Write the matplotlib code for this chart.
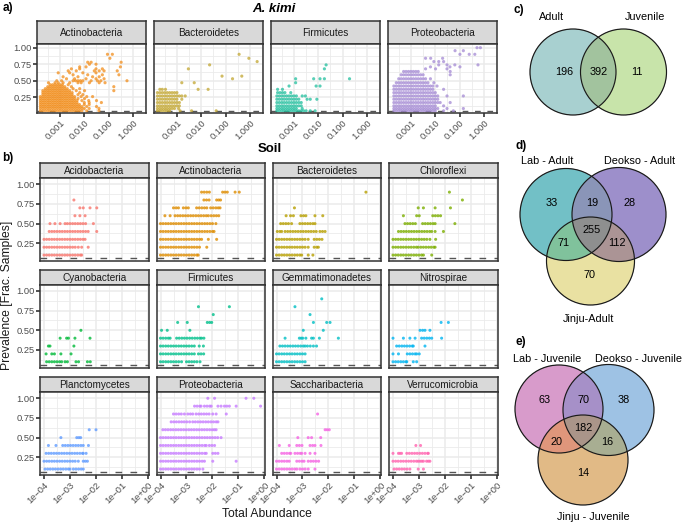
import numpy as np
import matplotlib
matplotlib.use('Agg')
import matplotlib.pyplot as plt
from matplotlib.ticker import FixedLocator, NullFormatter
from matplotlib.patches import Circle
from matplotlib.colors import to_rgba

plt.rcParams['font.family'] = ['Liberation Sans', 'DejaVu Sans']
plt.rcParams['lines.scale_dashes'] = False

W, H = 685, 523

# ---------------------------------------------------------------- data
# Panel a (A. kimi): prevalence level -> list of log10(total abundance)
a_phyla = ['Actinobacteria', 'Bacteroidetes', 'Firmicutes', 'Proteobacteria']
a_colors = ['#F28E1C', '#C2A630', '#22BF9E', '#A48AD4']

a_actinobacteria = {
    0.045: [-3.8, -3.7, -3.6, -3.5, -3.4, -3.3, -3.2, -3.1, -3.0, -2.9, -2.8, -2.7, -2.6, -2.5, -2.4, -2.3, -2.2, -2.1, -1.9, -1.4],
    0.08: [-3.8, -3.7, -3.6, -3.5, -3.4, -3.3, -3.2, -3.1, -3.0, -2.9, -2.8, -2.7, -2.6, -2.5, -2.4, -2.3, -2.2, -2.1, -2.0, -1.8, -1.4],
    0.11: [-3.8, -3.7, -3.6, -3.5, -3.4, -3.3, -3.2, -3.1, -3.0, -2.9, -2.8, -2.7, -2.6, -2.5, -2.4, -2.3, -2.2, -2.1, -1.9, -1.5],
    0.14: [-3.8, -3.7, -3.6, -3.5, -3.4, -3.3, -3.2, -3.1, -3.0, -2.9, -2.8, -2.7, -2.6, -2.5, -2.4, -2.3, -2.2, -2.0, -1.8],
    0.17: [-3.8, -3.7, -3.6, -3.5, -3.4, -3.3, -3.2, -3.1, -3.0, -2.9, -2.8, -2.7, -2.6, -2.5, -2.4, -2.3, -2.0, -1.8, -1.3],
    0.20: [-3.8, -3.7, -3.6, -3.5, -3.4, -3.3, -3.2, -3.1, -3.0, -2.9, -2.8, -2.7, -2.6, -2.5, -2.4, -2.3, -2.1, -1.82, -1.5],
    0.23: [-3.8, -3.7, -3.6, -3.5, -3.4, -3.3, -3.2, -3.1, -3.0, -2.9, -2.8, -2.7, -2.6, -2.5, -2.4, -2.26, -1.99],
    0.26: [-3.8, -3.7, -3.6, -3.5, -3.4, -3.3, -3.2, -3.1, -3.0, -2.9, -2.8, -2.7, -2.6, -2.5, -2.4, -2.13, -1.9, -1.66],
    0.29: [-3.7, -3.6, -3.5, -3.4, -3.3, -3.2, -3.1, -3.0, -2.9, -2.8, -2.7, -2.6, -2.5, -2.26, -2.06],
    0.32: [-3.7, -3.6, -3.5, -3.4, -3.3, -3.2, -3.1, -3.0, -2.9, -2.8, -2.7, -2.6, -2.5, -2.19],
    0.35: [-3.7, -3.6, -3.5, -3.4, -3.3, -3.2, -3.1, -3.0, -2.9, -2.8, -2.7, -2.6, -2.33, -1.99, -0.79],
    0.38: [-3.6, -3.5, -3.4, -3.3, -3.2, -3.1, -3.0, -2.9, -2.8, -2.7, -2.46, -2.19],
    0.41: [-3.5, -3.4, -3.3, -3.2, -3.1, -3.0, -2.9, -2.8, -2.53, -0.79],
    0.44: [-3.4, -3.3, -3.2, -3.1, -3.0, -2.9, -2.66],
    0.47: [-3.47, -3.2, -3.07, -2.87, -2.6, -2.26, -2.13, -1.79, -1.39, -1.15],
    0.50: [-3.13, -2.93, -2.46, -2.36, -2.26, -2.16, -2.06, -1.72, -1.46, -1.32, -0.25],
    0.53: [-2.73, -2.4, -1.93, -1.52, -1.19],
    0.56: [-2.87, -2.26, -1.66, -1.39],
    0.59: [-2.46, -1.86, -1.26, -0.58],
    0.62: [-3.07, -2.6, -2.06, -1.52],
    0.65: [-2.66, -2.33, -1.59, -1.39, -1.19, -0.65],
    0.68: [-2.53, -2.19, -1.52, -1.26],
    0.71: [-2.19, -1.93, -0.52],
    0.75: [-1.79, -1.52],
    0.78: [-1.86, -1.72, -0.49],
    0.84: [-0.95],
    0.90: [-1.05, -0.85],
}

a_bacteroidetes = {
    0.045: [-3.8, -3.7, -3.6, -3.5, -3.4, -3.3, -2.87, -2.4, -1.39],
    0.08: [-3.8, -3.7, -3.6, -3.5, -3.4, -3.3, -3.2, -3.1, -2.93],
    0.12: [-3.8, -3.7, -3.6, -3.5, -3.4, -3.3, -3.2, -3.1, -3.0, -2.9],
    0.17: [-3.8, -3.7, -3.6, -3.5, -3.4, -3.3, -3.2, -3.1, -3.0, -2.9],
    0.22: [-3.8, -3.7, -3.6, -3.5, -3.4, -3.3, -3.2, -3.1, -3.0, -2.8],
    0.27: [-3.8, -3.7, -3.6, -3.5, -3.4, -3.3, -3.2, -3.1, -3.0, -2.9, -2.8, -2.66],
    0.32: [-3.8, -3.7, -3.6, -3.5, -3.4, -3.3, -3.2, -3.1, -3.0],
    0.37: [-3.7, -3.6, -3.47, -2.13, -1.72],
    0.47: [-2.8, -2.29],
    0.53: [-0.72],
    0.57: [-1.15, -0.34],
    0.68: [-2.53],
    0.74: [-1.66],
    0.79: [0.29],
    0.84: [-0.05],
    0.90: [-0.45],
}

a_firmicutes = {
    0.045: [-3.7, -3.6, -3.5, -3.4, -3.3, -3.2, -3.1, -3.0, -2.9, -2.8, -2.7, -2.6, -2.5, -2.33, -2.13],
    0.08: [-3.7, -3.6, -3.5, -3.4, -3.3, -3.2, -3.1, -3.0, -2.9, -2.66],
    0.12: [-3.7, -3.6, -3.5, -3.4, -3.3, -3.2, -3.1, -3.0, -2.9, -2.8, -2.7],
    0.17: [-3.7, -3.6, -3.5, -3.4, -3.3, -3.2, -3.1, -3.0, -2.9, -2.8, -2.7],
    0.22: [-3.7, -3.6, -3.5, -3.4, -3.3, -3.2, -3.1, -3.0, -2.9, -2.8, -2.46, -2.33, -2.06],
    0.27: [-3.7, -3.6, -3.5, -3.4, -3.3, -3.2, -3.1, -3.0, -2.9, -2.66, -2.53],
    0.32: [-3.67, -3.57, -3.47, -3.37, -3.13],
    0.37: [-3.67, -3.47],
    0.42: [-3.2, -2.09, -1.93],
    0.47: [-2.93],
    0.53: [-2.93, -2.19, -1.93, -1.75, -0.72],
    0.68: [-1.75],
    0.74: [-1.68],
}

a_proteobacteria = {
    0.045: [-3.7, -3.6, -3.5, -3.4, -3.3, -3.2, -3.1, -3.0, -2.9, -2.8, -2.7, -2.6, -2.5, -2.4, -2.3, -2.2, -2.1, -2.0, -1.66, -1.26],
    0.08: [-3.7, -3.6, -3.5, -3.4, -3.3, -3.2, -3.1, -3.0, -2.9, -2.8, -2.7, -2.6, -2.5, -2.4, -2.3, -2.2, -2.1, -2.0, -1.9, -1.52, -0.85],
    0.12: [-3.7, -3.6, -3.5, -3.4, -3.3, -3.2, -3.1, -3.0, -2.9, -2.8, -2.7, -2.6, -2.5, -2.4, -2.3, -2.2, -2.1, -2.0, -1.66],
    0.17: [-3.7, -3.6, -3.5, -3.4, -3.3, -3.2, -3.1, -3.0, -2.9, -2.8, -2.7, -2.6, -2.5, -2.4, -2.3, -2.2, -2.1, -2.0, -1.9, -1.8, -1.39],
    0.22: [-3.7, -3.6, -3.5, -3.4, -3.3, -3.2, -3.1, -3.0, -2.9, -2.8, -2.7, -2.6, -2.5, -2.4, -2.3, -2.2, -2.1, -2.0, -1.9],
    0.27: [-3.7, -3.6, -3.5, -3.4, -3.3, -3.2, -3.1, -3.0, -2.9, -2.8, -2.7, -2.6, -2.5, -2.4, -2.3, -2.2, -2.1, -2.0, -1.9, -1.52, -0.85],
    0.32: [-3.7, -3.6, -3.5, -3.4, -3.3, -3.2, -3.1, -3.0, -2.9, -2.8, -2.7, -2.6, -2.5, -2.4, -2.3, -2.2, -2.1, -2.0],
    0.37: [-3.7, -3.6, -3.5, -3.4, -3.3, -3.2, -3.1, -3.0, -2.9, -2.8, -2.7, -2.6, -2.5, -2.4, -2.3, -2.2, -2.1, -1.66],
    0.42: [-3.7, -3.6, -3.5, -3.4, -3.3, -3.2, -3.1, -3.0, -2.9, -2.8, -2.7, -2.6, -2.5, -2.4, -2.3, -2.2, -2.1, -1.93],
    0.47: [-3.6, -3.5, -3.4, -3.3, -3.2, -3.1, -3.0, -2.9, -2.8, -2.7, -2.6, -2.5, -2.4, -2.3, -2.06],
    0.53: [-3.5, -3.4, -3.3, -3.2, -3.1, -3.0, -2.9, -2.8, -2.7, -2.6, -2.5, -2.4, -2.2],
    0.59: [-3.4, -3.3, -3.2, -3.1, -3.0, -2.9, -2.8, -2.7, -2.6, -2.5, -1.39],
    0.64: [-3.3, -3.2, -3.1, -3.0, -2.9, -2.8, -2.7, -1.39],
    0.68: [-2.4, -1.99, -1.52],
    0.71: [-2.2, -1.4, -0.99],
    0.74: [-1.86, -1.52, -1.2, -0.25],
    0.79: [-2.06, -1.86, -1.66],
    0.84: [-2.4, -2.19, -1.7],
    0.90: [-0.99, -0.61, -0.38],
    0.955: [-1.19, -0.85],
    1.00: [-0.29, -0.15],
}

a_data = [a_actinobacteria, a_bacteroidetes, a_firmicutes, a_proteobacteria]
a_xticks = [1e-3, 1e-2, 1e-1, 1e0]
a_xticklabels = ['0.001', '0.010', '0.100', '1.000']

# Panel b (Soil)
b_phyla = ['Acidobacteria', 'Actinobacteria', 'Bacteroidetes', 'Chloroflexi',
           'Cyanobacteria', 'Firmicutes', 'Gemmatimonadetes', 'Nitrospirae',
           'Planctomycetes', 'Proteobacteria', 'Saccharibacteria', 'Verrucomicrobia']
b_colors = ['#F8766D', '#DE8C00', '#B79F00', '#7CAE00', '#00BA38', '#00C08B',
            '#00BFC4', '#00B4F0', '#619CFF', '#C77CFF', '#F564E3', '#FF64B0']

b_acidobacteria = {
    0.1: [-4.0, -3.9, -3.8, -3.7, -3.6, -3.5, -3.4, -3.3, -3.2, -3.1, -3.0, -2.9, -2.8, -2.7, -2.6, -2.55],
    0.2: [-4.0, -3.9, -3.8, -3.7, -3.6, -3.5, -3.4, -3.3, -3.2, -3.1, -3.0, -2.9, -2.8, -2.68, -2.55, -2.3],
    0.3: [-4.0, -3.9, -3.8, -3.7, -3.6, -3.5, -3.4, -3.3, -3.2, -3.1, -3.0, -2.9, -2.8, -2.7, -2.6, -2.5, -2.42],
    0.4: [-3.8, -3.7, -3.6, -3.5, -3.4, -3.3, -3.2, -3.1, -3.0, -2.9, -2.8, -2.7, -2.6, -2.5, -2.4, -2.3, -1.97],
    0.5: [-3.77, -3.58, -3.38, -3.19, -3.1, -3.0, -2.9, -2.8, -2.7, -2.6, -2.5, -2.4, -2.1],
    0.6: [-2.81, -2.62, -2.42],
    0.7: [-2.62, -2.49, -2.23, -1.97],
    0.8: [-2.85],
}
b_actinobacteria = {
    0.1: [-4.0, -3.9, -3.8, -3.7, -3.6, -3.5, -3.4, -3.3, -3.2, -3.1, -3.0, -2.9, -2.8, -2.7, -2.6, -2.55],
    0.2: [-4.0, -3.9, -3.8, -3.7, -3.6, -3.5, -3.4, -3.3, -3.2, -3.1, -3.0, -2.9, -2.8, -2.7, -2.6, -2.5, -2.22],
    0.3: [-4.0, -3.9, -3.8, -3.7, -3.6, -3.5, -3.4, -3.3, -3.2, -3.1, -3.0, -2.9, -2.8, -2.7, -2.6, -2.5, -2.42, -2.16, -1.84],
    0.4: [-4.0, -3.9, -3.8, -3.7, -3.6, -3.5, -3.4, -3.3, -3.2, -3.1, -3.0, -2.9, -2.8, -2.7, -2.6, -2.5, -2.4, -2.3, -2.2, -2.1, -2.0, -1.94],
    0.5: [-4.0, -3.9, -3.8, -3.7, -3.6, -3.5, -3.4, -3.3, -3.2, -3.1, -3.0, -2.9, -2.8, -2.7, -2.6, -2.5, -2.4, -2.3, -2.2, -2.1, -2.0, -1.87],
    0.6: [-3.83, -3.63, -3.44, -3.34, -3.24, -3.14, -3.04, -2.94, -2.84, -2.74, -2.64, -2.54, -2.44, -2.34, -2.24, -2.16, -2.05, -1.95, -1.85, -1.76],
    0.7: [-3.5, -3.4, -3.31, -3.12, -3.02, -2.93, -2.61, -2.51, -2.41, -2.31, -2.22, -2.07, -1.97, -1.87, -1.78, -1.71],
    0.8: [-2.33, -2.23, -2.13, -1.84, -1.76, -1.69],
    0.9: [-2.42, -2.32, -2.22, -2.12, -1.61, -1.52, -1.43, -1.13, -0.97],
}
b_bacteroidetes = {
    0.1: [-4.0, -3.9, -3.8, -3.7, -3.6, -3.5, -3.4, -3.3, -3.2, -3.1, -3.03, -2.78, -2.6],
    0.2: [-4.0, -3.9, -3.8, -3.7, -3.6, -3.5, -3.4, -3.3, -3.2, -3.1, -3.0, -2.9, -2.78, -2.55, -2.45, -2.39],
    0.3: [-4.0, -3.9, -3.8, -3.7, -3.6, -3.5, -3.4, -3.3, -3.2, -3.1, -3.0, -2.9, -2.78, -2.55, -2.45, -2.35, -2.25],
    0.4: [-3.97, -3.87, -3.8, -3.67, -3.57, -3.47, -3.37, -3.27, -3.17, -3.07, -2.97, -2.87, -2.77, -2.67, -2.57, -2.47, -2.33, -2.23, -2.13],
    0.5: [-3.84, -3.74, -3.64, -3.54, -3.42, -3.1, -3.0, -2.9, -2.8, -2.7, -2.6, -2.52],
    0.6: [-3.63, -3.46, -3.35, -3.06, -2.96, -2.87, -2.52, -2.22],
    0.7: [-3.31],
    0.9: [-0.56],
}
b_chloroflexi = {
    0.1: [-4.0, -3.9, -3.8, -3.7, -3.6, -3.5, -3.4, -3.3, -3.2, -3.1, -3.0, -2.9, -2.83, -2.51],
    0.2: [-4.0, -3.9, -3.8, -3.7, -3.6, -3.5, -3.4, -3.3, -3.2, -3.1, -3.03, -2.93, -2.83, -2.73, -2.63, -2.53, -2.43, -2.38],
    0.3: [-4.0, -3.9, -3.8, -3.7, -3.6, -3.5, -3.4, -3.3, -3.2, -3.1, -3.0, -2.9, -2.8, -2.7, -2.58, -2.36],
    0.4: [-3.79, -3.69, -3.59, -3.49, -3.39, -3.29, -3.19, -3.09, -2.99, -2.89, -2.79, -2.69, -2.59, -2.51, -2.38, -2.06],
    0.5: [-3.54, -3.44, -3.34, -3.24, -3.14, -2.86, -2.76, -2.66, -2.56, -2.46, -2.38, -1.62],
    0.6: [-3.6, -3.09, -2.99, -2.47, -2.37, -2.27, -2.17],
    0.7: [-3.03, -2.83, -2.38, -1.79],
    0.8: [-1.33],
    0.9: [-1.83],
}
b_cyanobacteria = {
    0.1: [-3.9, -3.8, -3.7, -3.6, -3.5, -3.4, -3.32, -3.19, -3.1, -2.77, -2.67, -2.33, -2.22],
    0.2: [-3.92, -3.7, -3.6, -3.35, -2.96],
    0.3: [-3.83, -3.77, -2.85],
    0.4: [-3.38, -3.13, -3.06, -2.81, -2.23],
    0.5: [-2.58],
}
b_firmicutes = {
    0.1: [-4.0, -3.9, -3.8, -3.7, -3.6, -3.5, -3.4, -3.3, -3.19, -3.0, -2.9, -2.8, -2.7, -2.6, -2.48],
    0.2: [-4.0, -3.9, -3.8, -3.7, -3.6, -3.5, -3.4, -3.3, -3.2, -3.1, -3.0, -2.9, -2.8, -2.7, -2.54, -2.44, -2.34],
    0.3: [-4.0, -3.9, -3.8, -3.7, -3.6, -3.5, -3.4, -3.3, -3.2, -3.1, -3.0, -2.9, -2.8, -2.7, -2.51, -2.35],
    0.4: [-4.0, -3.9, -3.8, -3.7, -3.63, -3.38, -3.28, -3.18, -3.08, -2.98, -2.88, -2.78, -2.68, -2.58, -2.48, -2.42, -2.33],
    0.5: [-3.96, -3.74, -2.87],
    0.6: [-3.34, -2.97, -2.2, -2.11, -2.03],
    0.7: [-1.97],
    0.8: [-2.54, -1.35],
}
b_gemmatimonadetes = {
    0.1: [-4.0, -3.9, -3.8, -3.7, -3.6, -3.5, -3.4, -3.3, -3.2, -3.1, -3.0, -2.9],
    0.2: [-4.0, -3.9, -3.8, -3.7, -3.6, -3.5, -3.4, -3.3, -3.2, -3.1, -3.0, -2.9],
    0.3: [-3.87, -3.77, -3.67, -3.57, -3.47, -3.37, -3.27, -3.17, -3.07, -2.97, -2.9, -2.81, -2.7, -2.58, -2.46],
    0.4: [-3.67, -3.12, -3.05, -2.99, -2.87, -2.65, -2.58, -2.35, -1.62],
    0.5: [-2.97, -2.2],
    0.6: [-2.58, -2.07, -1.94],
    0.7: [-2.71],
    0.8: [-3.29],
    0.9: [-2.26],
}
b_nitrospirae = {
    0.1: [-4.0, -3.9, -3.8, -3.7, -3.6, -3.5, -3.47, -3.22, -3.09],
    0.2: [-4.0, -3.79, -3.45, -3.35, -3.25, -3.15, -3.09, -2.99],
    0.3: [-3.86, -3.76, -3.66, -3.56, -3.46, -3.36, -3.26, -3.22, -2.77],
    0.4: [-4.0, -3.6, -3.35, -3.15, -2.9, -2.8, -2.7, -2.6, -2.51, -2.13],
    0.5: [-2.96, -2.86, -2.77, -2.58],
    0.6: [-2.15, -1.87],
}
b_planctomycetes = {
    0.1: [-3.96, -3.86, -3.76, -3.66, -3.56, -3.46, -3.36, -3.26, -3.16, -3.06, -3.0, -2.87, -2.77, -2.67, -2.57, -2.49],
    0.2: [-4.0, -3.9, -3.8, -3.7, -3.6, -3.5, -3.4, -3.3, -3.2, -3.1, -3.0, -2.9, -2.8, -2.68, -2.49, -2.41, -2.33],
    0.3: [-3.92, -3.82, -3.72, -3.62, -3.52, -3.42, -3.32, -3.22, -3.12, -3.02, -2.92, -2.82, -2.72, -2.62, -2.52, -2.49, -2.38],
    0.4: [-3.83, -3.54, -3.28, -3.18, -3.08, -2.98, -2.88, -2.78, -2.68, -2.58, -2.49, -2.29],
    0.5: [-3.35, -2.74, -2.66, -2.59],
    0.6: [-2.26, -2.0],
}
b_proteobacteria = {
    0.1: [-4.0, -3.9, -3.8, -3.7, -3.6, -3.5, -3.4, -3.3, -3.2, -3.1, -3.0, -2.9, -2.8, -2.7, -2.6, -2.5, -2.37],
    0.2: [-4.0, -3.9, -3.8, -3.7, -3.6, -3.5, -3.4, -3.3, -3.2, -3.1, -3.0, -2.9, -2.8, -2.7, -2.6, -2.5, -2.4, -2.31, -1.99, -1.09],
    0.3: [-4.0, -3.9, -3.8, -3.7, -3.6, -3.5, -3.4, -3.3, -3.2, -3.1, -3.0, -2.9, -2.8, -2.7, -2.6, -2.5, -2.4, -2.3, -2.24, -1.99, -1.89, -1.79],
    0.4: [-4.0, -3.9, -3.8, -3.7, -3.6, -3.5, -3.4, -3.3, -3.2, -3.1, -3.0, -2.9, -2.8, -2.7, -2.6, -2.5, -2.4, -2.3, -2.24, -2.12, -2.02, -1.92],
    0.5: [-4.0, -3.9, -3.8, -3.7, -3.6, -3.5, -3.4, -3.3, -3.2, -3.1, -3.0, -2.9, -2.8, -2.7, -2.6, -2.5, -2.4, -2.3, -2.2, -2.1, -2.0, -1.9, -1.8, -1.67],
    0.6: [-3.91, -3.81, -3.71, -3.61, -3.51, -3.41, -3.31, -3.21, -3.11, -3.01, -2.91, -2.81, -2.71, -2.61, -2.51, -2.41, -2.31, -2.21, -2.11, -2.01, -1.93, -1.86],
    0.7: [-3.59, -3.49, -3.39, -3.29, -3.19, -3.09, -2.99, -2.88, -2.76, -2.66, -2.56, -2.46, -2.36, -2.26, -2.16, -2.06, -1.96, -1.86, -1.79],
    0.8: [-3.5, -3.4, -3.3, -3.2, -3.08, -2.95, -2.85, -2.76, -2.63, -2.53, -2.43, -2.33, -2.23, -2.13, -1.99, -1.86, -1.47],
    0.9: [-2.69, -2.59, -2.49, -2.44, -2.31, -2.21, -2.11, -2.05, -1.79, -1.67, -1.54, -1.45, -1.35, -1.09, -0.15],
    1.0: [-2.18, -1.92, -0.71, -0.41],
}
b_saccharibacteria = {
    0.1: [-4.0, -3.9, -3.8, -3.7, -3.6, -3.5, -3.4, -3.3, -3.22, -3.1, -3.0, -2.9, -2.78, -2.52],
    0.2: [-4.0, -3.9, -3.8, -3.7, -3.6, -3.51, -3.22, -3.12, -3.02, -2.94, -2.78, -2.68, -2.58, -2.48, -2.38],
    0.3: [-3.8, -3.7, -3.6, -3.5, -3.45, -3.29, -3.19, -3.09, -3.03, -2.9, -2.71, -2.52],
    0.4: [-3.89, -3.51, -3.22, -3.12, -3.02, -2.71, -2.61, -2.52, -2.29],
    0.5: [-3.18, -2.78, -2.65, -2.3],
    0.6: [-2.13, -2.05, -1.97],
    0.8: [-2.42],
}
b_verrucomicrobia = {
    0.1: [-3.96, -3.86, -3.76, -3.66, -3.56, -3.46, -3.35, -3.03, -2.83],
    0.2: [-4.0, -3.9, -3.8, -3.7, -3.6, -3.5, -3.4, -3.3, -3.2, -3.1, -3.03, -2.96, -2.89, -2.83, -2.71, -2.64, -2.58],
    0.3: [-4.0, -3.79, -3.73, -3.67, -3.47, -3.37, -3.27, -3.17, -3.07, -2.97, -2.87, -2.77, -2.67, -2.64],
    0.4: [-3.12, -2.94],
}
b_data = [b_acidobacteria, b_actinobacteria, b_bacteroidetes, b_chloroflexi,
          b_cyanobacteria, b_firmicutes, b_gemmatimonadetes, b_nitrospirae,
          b_planctomycetes, b_proteobacteria, b_saccharibacteria, b_verrucomicrobia]
b_xticks = [1e-4, 1e-3, 1e-2, 1e-1, 1e0]
b_xticklabels = ['1e\u221204', '1e\u221203', '1e\u221202', '1e\u221201', '1e+00']

y_ticks = [0.25, 0.50, 0.75, 1.00]
y_ticklabels = ['0.25', '0.50', '0.75', '1.00']

# Venn diagrams
c_sets = ['Adult', 'Juvenile']
c_counts = [196, 392, 11]          # A only, A&J, J only
d_sets = ['Lab - Adult', 'Deokso - Adult', 'Jinju-Adult']
d_counts = [33, 19, 28, 255, 71, 112, 70]   # L, LD, D, LDJ, LJ, DJ, J
e_sets = ['Lab - Juvenile', 'Deokso - Juvenile', 'Jinju - Juvenile']
e_counts = [63, 70, 38, 182, 20, 16, 14]

# ---------------------------------------------------------------- helpers
fig = plt.figure(figsize=(W / 100, H / 100), dpi=100)
GRID = '#EBEBEB'
DARK = '#333333'
STRIP_FS = 7.2
TICK_FS = 6.7


def pax(x0, y0, w, h, **kw):
    return fig.add_axes([x0 / W, 1 - (y0 + h) / H, w / W, h / H], **kw)


def strip(x0, y0, w, h, label):
    s = pax(x0, y0, w, h)
    s.set_facecolor('#D9D9D9')
    s.set_xticks([])
    s.set_yticks([])
    for sp in s.spines.values():
        sp.set_color(DARK)
        sp.set_linewidth(1.1)
    s.text(0.5, 0.47, label, ha='center', va='center', fontsize=STRIP_FS,
           color='#1A1A1A', transform=s.transAxes)


def panel(x0, y0, w, h, data, color, size, xlim, ylim, xticks, xticklabels,
          show_x, show_y, dash_y, dash, alpha):
    ax = pax(x0, y0, w, h)
    xs, ys = [], []
    for lvl, vals in data.items():
        xs.extend(10.0 ** np.array(vals))
        ys.extend([lvl] * len(vals))
    ax.axhline(dash_y, color='#555555', lw=1.0, ls=(0, dash), zorder=1.5)
    ax.scatter(xs, ys, s=size, c=color, alpha=alpha, edgecolors='none', zorder=2)
    ax.set_xscale('log')
    ax.set_xlim(xlim)
    ax.set_ylim(ylim)
    ax.xaxis.set_major_locator(FixedLocator(xticks))
    lo, hi = np.log10(xlim)
    mins = [10 ** (k + 0.5) for k in range(int(np.floor(lo)) - 1, int(np.ceil(hi)) + 1)]
    ax.xaxis.set_minor_locator(FixedLocator(mins))
    ax.xaxis.set_minor_formatter(NullFormatter())
    ax.yaxis.set_major_locator(FixedLocator(y_ticks))
    ax.yaxis.set_minor_locator(FixedLocator([0.125, 0.375, 0.625, 0.875]))
    ax.grid(which='major', color=GRID, lw=1.1)
    ax.grid(which='minor', color=GRID, lw=0.6)
    ax.set_axisbelow(True)
    ax.tick_params(which='minor', length=0)
    ax.tick_params(which='major', length=2.6, width=1.2, color=DARK,
                   labelsize=TICK_FS, labelcolor='#4D4D4D', pad=1.2)
    if show_x:
        ax.set_xticks(xticks, labels=xticklabels, rotation=45, ha='right',
                      va='top', rotation_mode='anchor')
    else:
        ax.tick_params(axis='x', which='major', length=0, labelbottom=False)
    if show_y:
        ax.set_yticks(y_ticks, labels=y_ticklabels)
    else:
        ax.tick_params(axis='y', which='major', length=0, labelleft=False)
    for sp in ax.spines.values():
        sp.set_color(DARK)
        sp.set_linewidth(1.1)
    return ax


# ---------------------------------------------------------------- panel a
a_lefts = [37, 154, 271, 388]
a_w, a_top, a_h = 109, 44, 69
a_xlim = (10 ** -3.94, 10 ** 0.53)
a_ylim = (0.012, 1.056)
for i, name in enumerate(a_phyla):
    strip(a_lefts[i], 21, a_w, 23, name)
    panel(a_lefts[i], a_top, a_w, a_h, a_data[i], a_colors[i], 5.2, a_xlim, a_ylim,
          a_xticks, a_xticklabels, True, i == 0, 0.047, (4.1, 4.8), 0.75)

# ---------------------------------------------------------------- panel b
b_lefts = [40, 156.5, 272.5, 389]
b_tops = [178.3, 285.0, 392.3]
b_w, b_h = 108.5, 83
b_xlim = (10 ** -4.154, 10 ** 0.02)
b_ylim = (0.021, 1.076)
for i, name in enumerate(b_phyla):
    r, c = divmod(i, 4)
    strip(b_lefts[c], b_tops[r] - 15, b_w, 15, name)
    panel(b_lefts[c], b_tops[r], b_w, b_h, b_data[i], b_colors[i], 4.8, b_xlim, b_ylim,
          b_xticks, b_xticklabels, r == 2, c == 0, 0.058, (4.8, 6.0), 0.8)

# ---------------------------------------------------------------- titles
fig.text(8 / W, 1 - 8.5 / H, 'a)', fontsize=8.5, fontweight='bold', ha='center', va='center')
fig.text(8 / W, 1 - 157.5 / H, 'b)', fontsize=8.5, fontweight='bold', ha='center', va='center')
fig.text(274 / W, 1 - 9 / H, 'A. kimi', fontsize=9.5, fontweight='bold', fontstyle='italic',
         ha='center', va='center')
fig.text(270 / W, 1 - 149 / H, 'Soil', fontsize=9.5, fontweight='bold', ha='center', va='center')
fig.text(7 / W, 1 - 295 / H, 'Prevalence [Frac. Samples]', fontsize=8.7, rotation=90,
         ha='center', va='center', color='#1A1A1A')
fig.text(267 / W, 1 - 514 / H, 'Total Abundance', fontsize=8.7, ha='center', va='center',
         color='#1A1A1A')

# ---------------------------------------------------------------- Venn diagrams
vax = fig.add_axes([0, 0, 1, 1], zorder=-1)
vax.set_xlim(0, W)
vax.set_ylim(H, 0)
vax.axis('off')

res = 3
vx0, vx1 = 505, 685
gx = np.arange(vx0, vx1, 1 / res) + 0.5 / res
gy = np.arange(0, H, 1 / res) + 0.5 / res
GX, GY = np.meshgrid(gx, gy)
img = np.zeros((len(gy), len(gx), 4))

c_circ = [(573, 72, 43), (623.5, 72, 43)]
d_circ = [(566, 214.5, 46), (619, 214.5, 47), (590.5, 261, 44)]
e_circ = [(559, 409, 44), (608.5, 410, 45.5), (583, 460, 45)]

c_fill = {(1, 0): '#A9D0D0', (1, 1): '#A3C49E', (0, 1): '#C9E4AA'}
d_fill = {(1, 0, 0): '#72C1C7', (0, 1, 0): '#9D90CB', (0, 0, 1): '#E9E2A2',
          (1, 1, 0): '#8A96B8', (1, 0, 1): '#80C29C', (0, 1, 1): '#AB9495',
          (1, 1, 1): '#8E9090'}
e_fill = {(1, 0, 0): '#D99BCB', (0, 1, 0): '#9EC3E5', (0, 0, 1): '#E2BA86',
          (1, 1, 0): '#A791C9', (1, 0, 1): '#E0977B', (0, 1, 1): '#A9AE92',
          (1, 1, 1): '#AA9589'}


def paint(circles, fills):
    inside = [((GX - cx) ** 2 + (GY - cy) ** 2) <= r * r for cx, cy, r in circles]
    for key, col in fills.items():
        m = np.ones_like(GX, dtype=bool)
        for flag, ins in zip(key, inside):
            m &= ins if flag else ~ins
        img[m] = to_rgba(col)


paint(c_circ, c_fill)
paint(d_circ, d_fill)
paint(e_circ, e_fill)
vax.imshow(img, extent=(vx0, vx1, H, 0), interpolation='antialiased', aspect='auto', zorder=0)
vax.set_xlim(0, W)
vax.set_ylim(H, 0)
for cx, cy, r in c_circ + d_circ + e_circ:
    vax.add_patch(Circle((cx, cy), r, fill=False, ec='#1A1A1A', lw=0.85, zorder=2))

VFS = 7.8
# c
vax.text(519, 9.5, 'c)', fontsize=8.5, fontweight='bold', ha='center', va='center')
vax.text(552, 17, c_sets[0], fontsize=VFS, ha='center', va='center')
vax.text(645, 17, c_sets[1], fontsize=VFS, ha='center', va='center')
for (x, y), n in zip([(564, 72), (599, 72), (637, 72)], c_counts):
    vax.text(x, y, str(n), fontsize=VFS, ha='center', va='center', zorder=3)
# d
vax.text(521, 145.5, 'd)', fontsize=8.5, fontweight='bold', ha='center', va='center')
vax.text(547, 161, d_sets[0], fontsize=VFS, ha='center', va='center')
vax.text(640, 161, d_sets[1], fontsize=VFS, ha='center', va='center')
vax.text(588.5, 318.5, d_sets[2], fontsize=VFS, ha='center', va='center')
d_pos = [(552, 202.5), (592, 202.5), (630, 202.5), (592, 230), (563.5, 243.5), (617, 243.5), (590, 275)]
for (x, y), n in zip(d_pos, d_counts):
    vax.text(x, y, str(n), fontsize=VFS, ha='center', va='center', zorder=3)
# e
vax.text(521, 342.5, 'e)', fontsize=8.5, fontweight='bold', ha='center', va='center')
vax.text(547, 359.5, e_sets[0], fontsize=VFS, ha='center', va='center')
vax.text(638.5, 359.5, e_sets[1], fontsize=VFS, ha='center', va='center')
vax.text(593.5, 516.5, e_sets[2], fontsize=VFS, ha='center', va='center')
e_pos = [(545, 400), (583.5, 400), (623.5, 400), (583.5, 428), (557, 442), (607, 442), (583.5, 473.5)]
for (x, y), n in zip(e_pos, e_counts):
    vax.text(x, y, str(n), fontsize=VFS, ha='center', va='center', zorder=3)

fig.savefig('out.png', dpi=100, facecolor='white')
